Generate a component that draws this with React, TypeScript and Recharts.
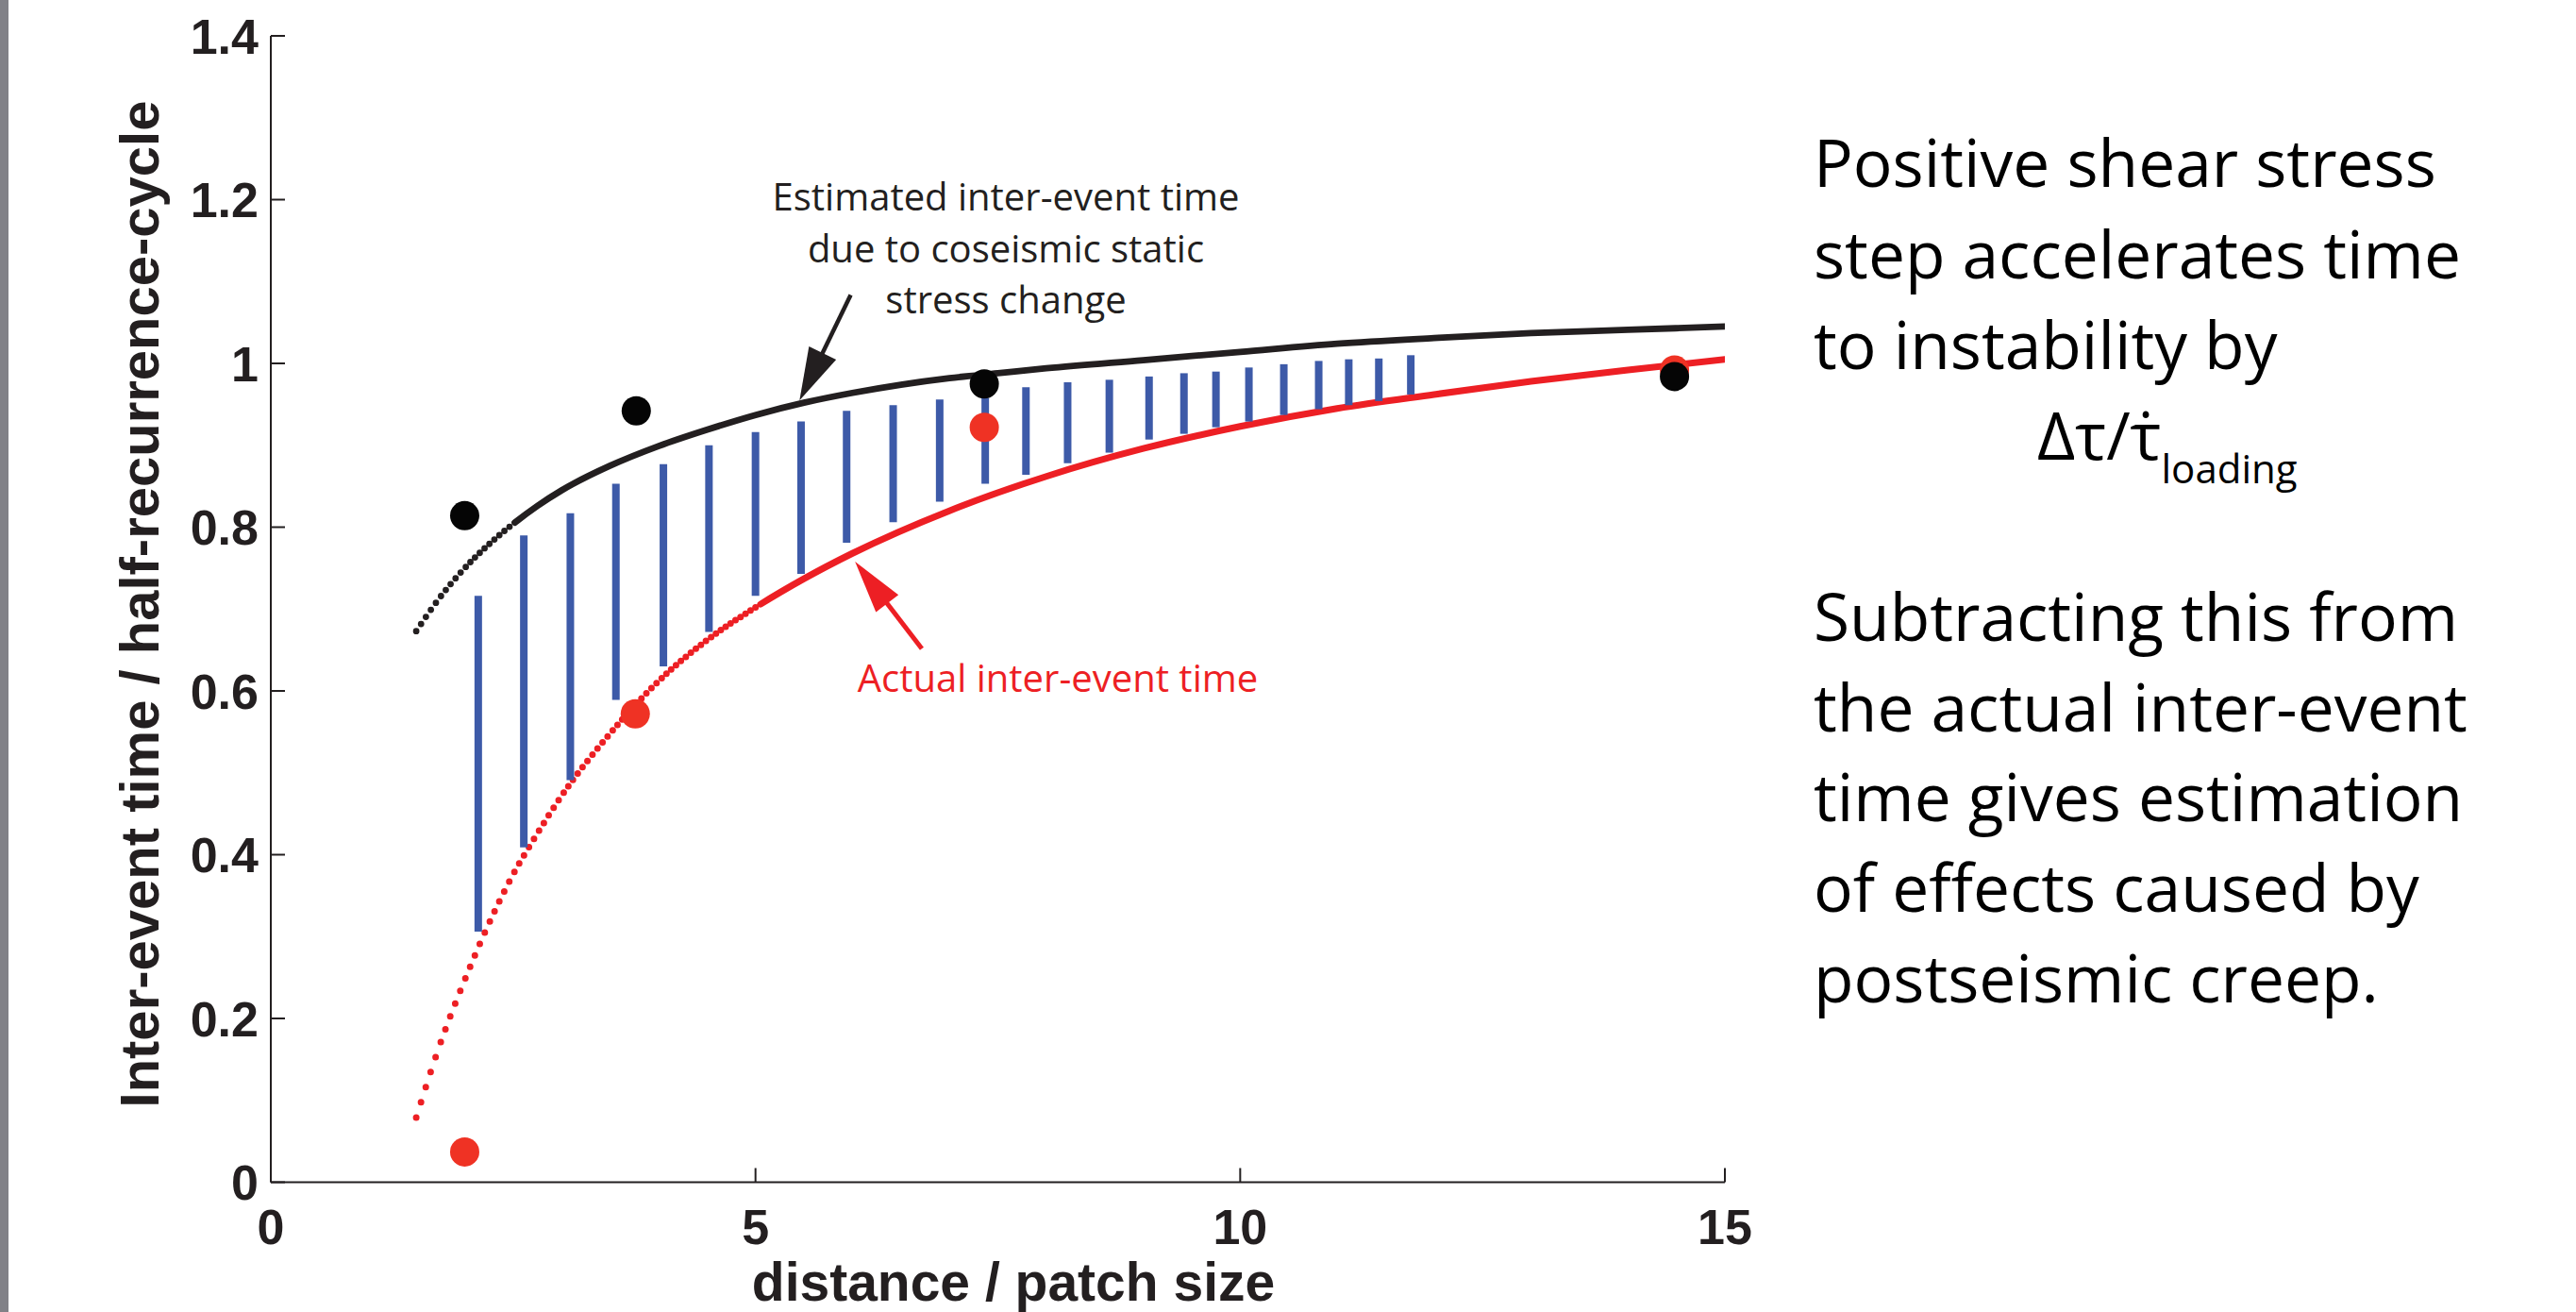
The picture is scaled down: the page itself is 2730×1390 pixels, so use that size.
import React from 'react';
import { ComposedChart, Line, Scatter, XAxis, YAxis, ReferenceLine } from 'recharts';

// ---------- data ----------
const xTicks = [0, 5, 10, 15];
const yTicks = [0, 0.2, 0.4, 0.6, 0.8, 1, 1.2, 1.4];

// Estimated inter-event time due to coseismic static stress change (black curve)
const estimatedX = [1.5, 1.75, 2.0, 2.25, 2.5, 2.75, 3.0, 3.5, 4.0, 4.5, 5.0, 5.5, 6.0, 6.5, 7.0, 7.5, 8.0, 9.0, 10.0, 11.0, 12.0, 13.0, 14.0, 15.0];
const estimatedY = [0.673, 0.715, 0.750, 0.779, 0.804, 0.826, 0.845, 0.875, 0.899, 0.919, 0.937, 0.952, 0.964, 0.974, 0.982, 0.988, 0.994, 1.004, 1.014, 1.024, 1.031, 1.037, 1.041, 1.045];

// Actual inter-event time (red curve)
const actualX = [1.5, 1.75, 2.0, 2.25, 2.5, 2.75, 3.0, 3.5, 4.0, 4.5, 5.0, 5.5, 6.0, 7.0, 8.0, 9.0, 10.0, 11.0, 12.0, 13.0, 14.0, 15.0];
const actualY = [0.079, 0.170, 0.247, 0.316, 0.376, 0.426, 0.472, 0.548, 0.612, 0.662, 0.702, 0.737, 0.768, 0.820, 0.862, 0.896, 0.923, 0.945, 0.962, 0.978, 0.992, 1.005];

// Simulated events
const estDotsX = [2.0, 3.77, 7.36, 14.48];
const estDotsY = [0.814, 0.942, 0.975, 0.984];
const actDotsX = [2.0, 3.76, 7.36, 14.48];
const actDotsY = [0.037, 0.572, 0.922, 0.992];

// Blue difference bars
const barX = [2.14, 2.61, 3.09, 3.56, 4.05, 4.52, 5.0, 5.47, 5.94, 6.42, 6.90, 7.37, 7.79, 8.22, 8.65, 9.06, 9.42, 9.75, 10.09, 10.45, 10.81, 11.12, 11.43, 11.76];
const barTop = [0.716, 0.790, 0.817, 0.853, 0.877, 0.900, 0.916, 0.929, 0.942, 0.949, 0.956, 0.958, 0.971, 0.977, 0.980, 0.984, 0.988, 0.990, 0.995, 0.999, 1.003, 1.005, 1.006, 1.010];
const barBottom = [0.306, 0.409, 0.491, 0.589, 0.630, 0.672, 0.716, 0.743, 0.781, 0.806, 0.831, 0.853, 0.864, 0.878, 0.891, 0.907, 0.914, 0.922, 0.929, 0.937, 0.944, 0.949, 0.954, 0.962];

// Annotation arrows (tail -> tip) in data units
const blackArrow = [{ x: 5.982, y: 1.0836 }, { x: 5.454, y: 0.9547 }];
const redArrow = [{ x: 6.716, y: 0.6515 }, { x: 6.027, y: 0.758 }];

// ---------- styles ----------
const BLACK = '#231f20';
const RED = '#ed1f24';
const DOTRED = '#ef3224';
const BLUE = '#3d5aa8';
const TICKFONT = '"Liberation Sans", Arial, Helvetica, sans-serif';
const TEXTFONT = '"Open Sans", "Noto Sans", sans-serif';

// dotted-then-solid stroke patterns: [number of dots, spacing in px]
const dashPattern = (runs: [number, number][]) =>
  runs.map(([n, g]) => Array(n).fill(`0 ${g}`).join(' ')).join(' ') + ' 100000 0';
const blackDash = dashPattern([[5, 9.1], [5, 8.1], [10, 7.0]]);
const redDash = dashPattern([[5, 16.8], [5, 14.5], [5, 13.1], [5, 11.7], [5, 10.2], [5, 9.6], [10, 8.4], [10, 7.6], [10, 6.8], [10, 6.3]]);

const toPoints = (xs: number[], ys: number[]) => xs.map((x, i) => ({ x, y: ys[i] }));

const YTick = (props: any) => {
  const { x, y, payload } = props;
  return (
    <g>
      <line x1={x + 13} x2={x + 28} y1={y} y2={y} stroke={BLACK} strokeWidth={2} />
      <text x={x} y={y} dy="0.36em" textAnchor="end" fontFamily={TICKFONT} fontWeight="bold" fontSize={52} fill={BLACK}>
        {String(payload.value)}
      </text>
    </g>
  );
};

const XTick = (props: any) => {
  const { x, y, payload } = props;
  return (
    <g>
      <line x1={x} x2={x} y1={y - 20} y2={y - 35} stroke={BLACK} strokeWidth={2} />
      <text x={x} y={y + 45.5} textAnchor="middle" fontFamily={TICKFONT} fontWeight="bold" fontSize={52} fill={BLACK}>
        {String(payload.value)}
      </text>
    </g>
  );
};

const arrowShape = (color: string, headLen: number, headHalf: number, shaftW: number) => (props: any) => {
  const { x1, y1, x2, y2 } = props;
  const dx = x2 - x1;
  const dy = y2 - y1;
  const L = Math.hypot(dx, dy) || 1;
  const ux = dx / L;
  const uy = dy / L;
  const bx = x2 - ux * headLen;
  const by = y2 - uy * headLen;
  const px = -uy;
  const py = ux;
  return (
    <g>
      <line x1={x1} y1={y1} x2={bx + ux * 4} y2={by + uy * 4} stroke={color} strokeWidth={shaftW} />
      <polygon
        points={`${x2},${y2} ${bx + px * headHalf},${by + py * headHalf} ${bx - px * headHalf},${by - py * headHalf}`}
        fill={color}
      />
    </g>
  );
};

const dotShape = (color: string) => (p: any) => <circle cx={p.cx} cy={p.cy} r={15.5} fill={color} />;

export default function App() {
  return (
    <div style={{ position: 'absolute', left: 0, top: 0, width: 2730, height: 1390, background: '#ffffff' }}>
      <ComposedChart width={2730} height={1390} margin={{ top: 38, right: 902, left: 0, bottom: 0 }}>
        <XAxis
          dataKey="x"
          type="number"
          domain={[0, 15]}
          ticks={xTicks}
          interval={0}
          allowDataOverflow
          height={137.5}
          tickSize={0}
          tickMargin={20}
          tickLine={false}
          axisLine={{ stroke: BLACK, strokeWidth: 2 }}
          tick={<XTick />}
        />
        <YAxis
          type="number"
          domain={[0, 1.4]}
          ticks={yTicks}
          interval={0}
          allowDataOverflow
          width={287}
          tickSize={0}
          tickMargin={13}
          tickLine={false}
          axisLine={{ stroke: BLACK, strokeWidth: 2 }}
          tick={<YTick />}
        />

        <Line data={toPoints(estimatedX, estimatedY)} dataKey="y" type="monotone" stroke={BLACK} strokeWidth={6.8}
          strokeDasharray={blackDash} strokeLinecap="round" dot={false} isAnimationActive={false} />
        <Line data={toPoints(actualX, actualY)} dataKey="y" type="monotone" stroke={RED} strokeWidth={7}
          strokeDasharray={redDash} strokeLinecap="round" dot={false} isAnimationActive={false} />

        <Scatter data={toPoints(actDotsX, actDotsY)} dataKey="y" shape={dotShape(DOTRED)} isAnimationActive={false} />

        {barX.map((x, i) => (
          <ReferenceLine
            key={'bar' + i}
            segment={[{ x, y: barBottom[i] }, { x, y: barTop[i] }]}
            stroke={BLUE}
            strokeWidth={8}
            ifOverflow="visible"
          />
        ))}

        <Scatter data={toPoints(estDotsX, estDotsY)} dataKey="y" shape={dotShape('#050505')} isAnimationActive={false} />

        <ReferenceLine segment={blackArrow} ifOverflow="visible" shape={arrowShape(BLACK, 56, 16, 4.5)} />
        <ReferenceLine segment={redArrow} ifOverflow="visible" shape={arrowShape(RED, 56, 15, 5)} />
      </ComposedChart>

      <svg width={2730} height={1390} style={{ position: 'absolute', left: 0, top: 0, pointerEvents: 'none' }}>
        <rect x={0} y={0} width={9} height={1390} fill="#818187" />

        <text transform="translate(168,640) rotate(-90)" textAnchor="middle" fontFamily={TICKFONT} fontWeight="bold" fontSize={58} fill={BLACK}>
          Inter-event time / half-recurrence-cycle
        </text>
        <text x={1074} y={1378} textAnchor="middle" fontFamily={TICKFONT} fontWeight="bold" fontSize={57} fill={BLACK}>
          distance / patch size
        </text>

        <g fontFamily={TEXTFONT} fontSize={40} fill={BLACK} textAnchor="middle">
          <text x={1066} y={223}>Estimated inter-event time</text>
          <text x={1066} y={278}>due to coseismic static</text>
          <text x={1066} y={332}>stress change</text>
        </g>
        <text x={1121} y={733} fontFamily={TEXTFONT} fontSize={40} fill={RED} textAnchor="middle">Actual inter-event time</text>

        <g fontFamily={TEXTFONT} fontSize={69.5} fill="#000000">
          <text x={1922} y={198}>Positive shear stress</text>
          <text x={1922} y={295}>step accelerates time</text>
          <text x={1922} y={391}>to instability by</text>
          <text x={2159} y={487}>
            {'\u0394\u03c4/\u03c4\u0307'}
            <tspan fontSize={42} dy={25}>loading</tspan>
          </text>
          <text x={1922} y={679}>Subtracting this from</text>
          <text x={1922} y={775}>the actual inter-event</text>
          <text x={1922} y={870}>time gives estimation</text>
          <text x={1922} y={966}>of effects caused by</text>
          <text x={1922} y={1062}>postseismic creep.</text>
        </g>
      </svg>
    </div>
  );
}
